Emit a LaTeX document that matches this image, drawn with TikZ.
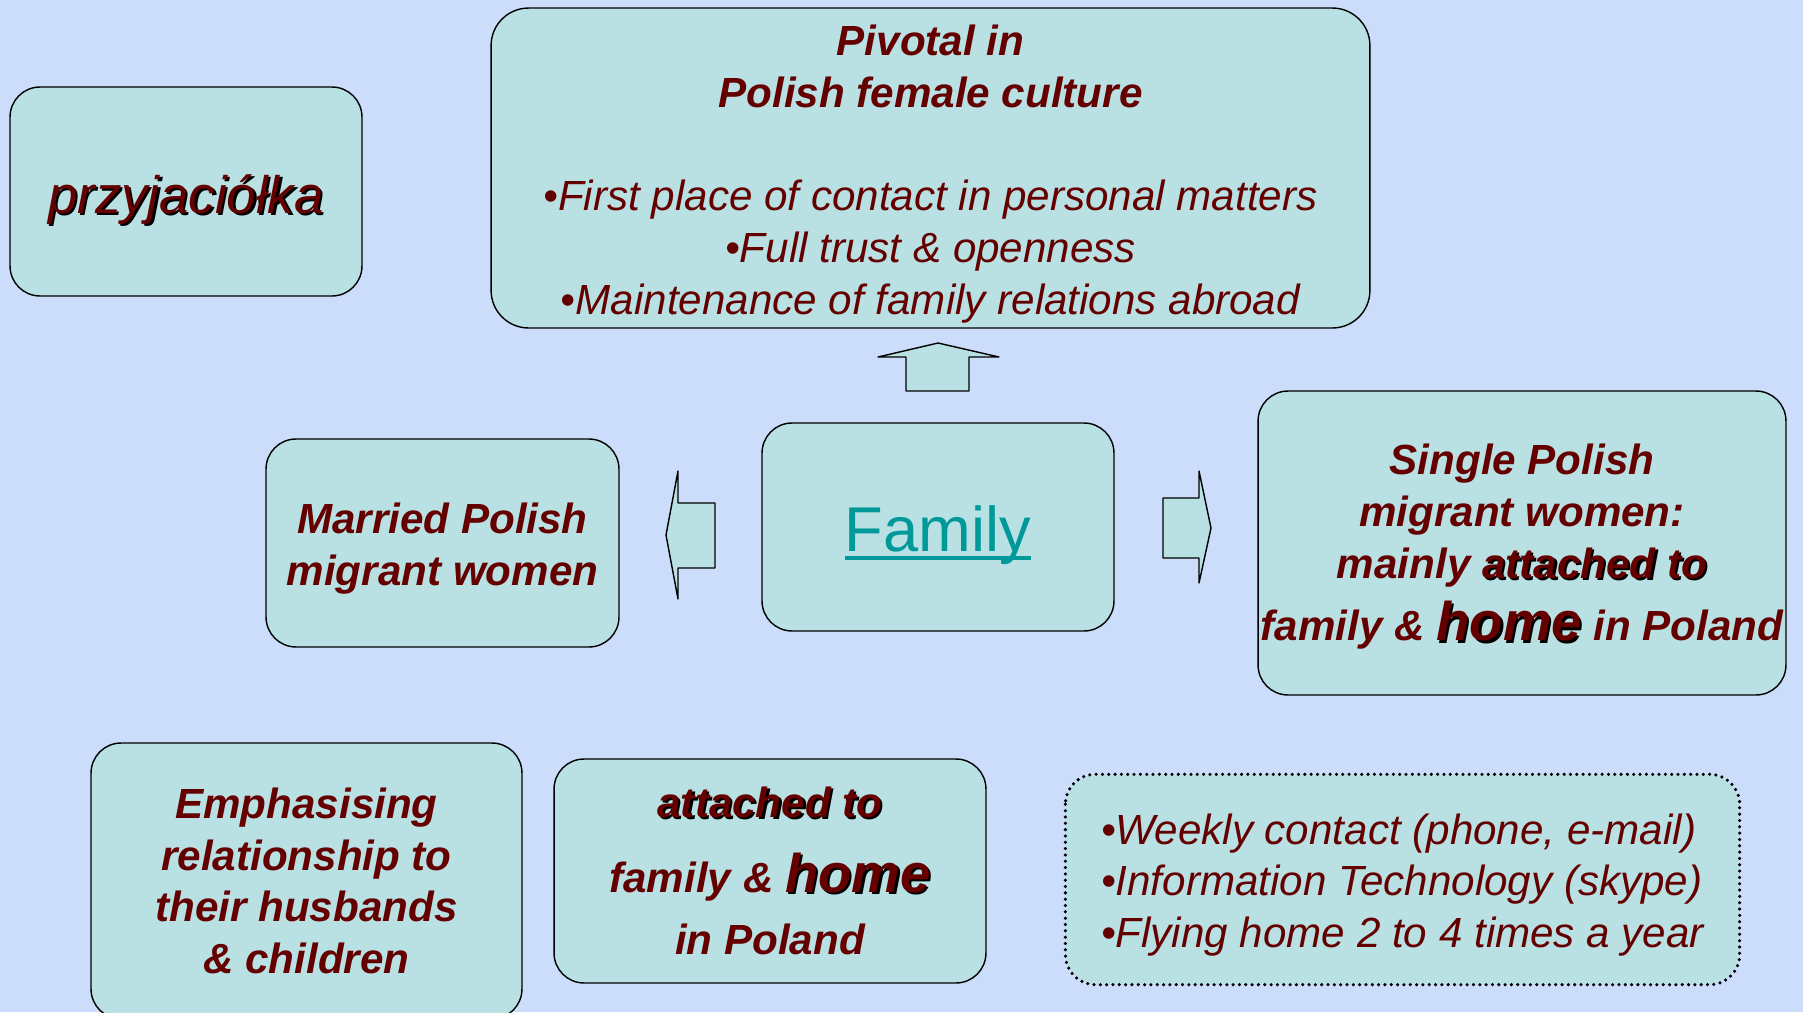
\documentclass[tikz,border=0pt]{standalone}
\usepackage{fontspec}
\setmainfont{Liberation Sans}
\definecolor{bgblue}{HTML}{CCDDFC}
\definecolor{boxfill}{HTML}{B9E0E3}
\definecolor{darkred}{HTML}{640000}
\definecolor{famteal}{HTML}{009999}
\newcommand{\shadowed}[1]{\makebox[0pt][l]{\hspace{1.3pt}\raisebox{-1.3pt}{\color{black}#1}}#1}
\newcommand{\famunder}[1]{\setbox0\hbox{#1}\makebox[0pt][l]{\rule[-5pt]{\wd0}{2.2pt}}\box0}

\begin{document}
\begin{tikzpicture}[x=0.02cm, y=-0.02cm,
    card/.style={draw=black, line width=0.8pt, fill=boxfill, rounded corners=0.6cm, inner sep=0pt},
    cardtext/.style={inner sep=0pt, align=center, text=darkred},
    bodytext/.style={cardtext, font=\fontsize{24}{29.5}\selectfont\bfseries\itshape},
    arrowbox/.style={draw=black, fill=boxfill, line width=0.8pt, line join=round}]
    \useasboundingbox (0,0) rectangle (1803,1012);
    \clip (0,0) rectangle (1803,1012);
    \fill[bgblue] (0,0) rectangle (1803,1012);

    \node[card, minimum width=7.04cm, minimum height=4.18cm] (friend) at (186,191.5) {};
    \node[cardtext, font=\fontsize{30}{36}\selectfont\itshape] (friend-text) at (186,200.5)
        {\shadowed{przyjaciółka}};

    \node[card, rounded corners=0.75cm, minimum width=17.58cm, minimum height=6.4cm] (pivotal) at (930.5,168) {};
    \node[cardtext, font=\fontsize{24}{29.5}\selectfont] (pivotal-text) at (930.5,174)
        {\bfseries\itshape Pivotal in\\\bfseries\itshape Polish female culture\\[29.5pt]
         \itshape •First place of contact in personal matters\\
         \itshape •Full trust \& openness\\
         \itshape •Maintenance of family relations abroad};

    \node[card, minimum width=7.04cm, minimum height=4.16cm] (family) at (938,527) {};
    \node[cardtext, text=famteal, font=\fontsize{36}{40}\selectfont] (family-text) at (938,535)
        {\famunder{Family}};

    \node[card, minimum width=7.06cm, minimum height=4.16cm] (married) at (442.5,543) {};
    \node[bodytext] (married-text) at (442.5,549) {Married Polish\\migrant women};

    \node[card, minimum width=10.56cm, minimum height=6.08cm] (single) at (1522,543) {};
    \node[bodytext] (single-text) at (1522,547)
        {Single Polish\\migrant women:\\mainly \shadowed{attached to}\\[6pt]
         family \& {\fontsize{31}{34}\selectfont\shadowed{home}} in Poland};

    \node[card, minimum width=8.62cm, minimum height=5.52cm] (emph) at (306.5,881) {};
    \node[bodytext] (emph-text) at (306.5,881)
        {Emphasising\\relationship to\\their husbands\\\& children};

    \node[card, minimum width=8.64cm, minimum height=4.48cm] (attached) at (770,871) {};
    \node[bodytext] (attached-text) at (770,871)
        {\shadowed{attached to}\\[13pt]
         family \& {\fontsize{31}{34}\selectfont\shadowed{home}}\\[6pt]
         in Poland};

    \node[card, draw=none, minimum width=13.46cm, minimum height=4.18cm] (contact) at (1402.5,879.5) {};
    \draw[line width=2pt, line cap=round, dash pattern=on 0pt off 3.6pt, rounded corners=0.6cm]
        (contact.north west) rectangle (contact.south east);
    \node[cardtext, align=left, font=\fontsize{24}{29.5}\selectfont\itshape] (contact-text) at (1402.5,885)
        {•Weekly contact (phone, e-mail)\\•Information Technology (skype)\\•Flying home 2 to 4 times a year};

    \draw[arrowbox] (878,357) -- (938,343) -- (999,357) -- (969,357) -- (969,391)
        -- (906,391) -- (906,357) -- cycle;
    \draw[arrowbox] (666,535) -- (678,471) -- (678,503) -- (715,503) -- (715,568)
        -- (678,568) -- (678,599) -- cycle;
    \draw[arrowbox] (1211,528) -- (1199,471) -- (1199,498) -- (1163,498) -- (1163,558)
        -- (1199,558) -- (1199,583) -- cycle;
\end{tikzpicture}
\end{document}
